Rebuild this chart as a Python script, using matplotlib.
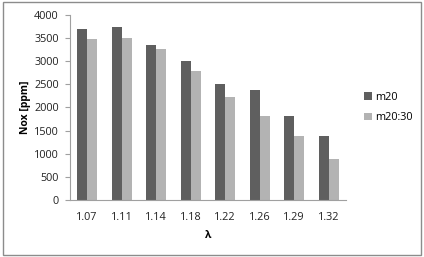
import numpy as np
import matplotlib.pyplot as plt
from matplotlib.patches import Rectangle

plt.rcParams['font.family'] = ['Open Sans', 'DejaVu Sans']

lambdas = ['1.07', '1.11', '1.14', '1.18', '1.22', '1.26', '1.29', '1.32']
m20 = [3700, 3740, 3340, 3000, 2510, 2370, 1815, 1375]
m20_30 = [3480, 3510, 3260, 2790, 2235, 1815, 1380, 875]

fig = plt.figure(figsize=(4.24, 2.57), dpi=100)
ax = fig.add_axes([0.165, 0.222, 0.651, 0.72])

x = np.arange(len(lambdas))
w = 0.29
ax.bar(x - w / 2, m20, w, color='#5f5f5f', label='m20')
ax.bar(x + w / 2, m20_30, w, color='#b3b3b3', label='m20:30')

ax.set_xlim(-0.5, len(lambdas) - 0.5)
ax.set_ylim(0, 4000)
ax.set_yticks(np.arange(0, 4001, 500))
ax.set_xticks(x)
ax.set_xticklabels(lambdas)

for s in ['top', 'right']:
    ax.spines[s].set_visible(False)
for s in ['left', 'bottom']:
    ax.spines[s].set_color('#a0a0a0')
    ax.spines[s].set_linewidth(0.8)
ax.tick_params(axis='y', length=3.5, color='#a0a0a0', labelsize=7.8, pad=4.5, labelcolor='#222222')
ax.tick_params(axis='x', length=0, labelsize=7.8, pad=9, labelcolor='#222222')

ax.set_ylabel('Nox [ppm]', fontsize=7.5, fontweight='bold', labelpad=2)
ax.set_xlabel('λ', fontsize=7.5, fontweight='bold', labelpad=5)

ax.legend(loc='center left', bbox_to_anchor=(1.03, 0.5), frameon=False,
          fontsize=7.8, handlelength=0.7, handleheight=0.7, handletextpad=0.3,
          labelspacing=0.9)

fig.patches.append(Rectangle((0.006, 0.008), 0.988, 0.985, transform=fig.transFigure,
                             fill=False, edgecolor='#8c8c8c', linewidth=1.0))

fig.savefig('out.png', dpi=100)
